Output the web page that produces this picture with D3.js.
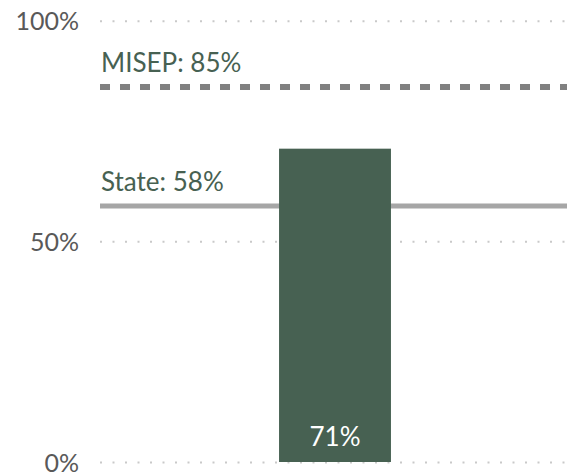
<!DOCTYPE html>
<html>
<head>
<meta charset="utf-8">
<script src="https://cdn.jsdelivr.net/npm/d3@7"></script>
<style>
  html, body { margin: 0; padding: 0; background: #fff; }
  svg { display: block; }
  text { font-family: Lato, "Open Sans", sans-serif; }
</style>
</head>
<body>
<svg id="chart" width="567" height="473"></svg>
<script>
const categories = ["School"];
const values = [0.71];
const tickValues = [0, 0.5, 1];
const tickLabels = ["0%", "50%", "100%"];
const refNames = ["MISEP", "State"];
const refValues = [0.85, 0.58];

const svg = d3.select("#chart");
const mLeft = 100, mRight = 567, mTop = 20.7, mBottom = 462;

const y = d3.scaleLinear().domain([0, 1]).range([mBottom, mTop]);
const x = d3.scaleBand().domain(categories).range([mLeft, 570]).paddingOuter(1.6).paddingInner(0);

// gridlines + tick labels
const axis = d3.axisLeft(y)
  .tickValues(tickValues)
  .tickFormat((d, i) => tickLabels[i])
  .tickSize(-(mRight - mLeft))
  .tickPadding(21);
const g = svg.append("g").attr("transform", `translate(${mLeft},0)`).call(axis);
g.select(".domain").remove();
g.selectAll(".tick line")
  .attr("stroke", "#c9c9c9")
  .attr("stroke-width", 2)
  .attr("stroke-dasharray", "2,10.5");
g.selectAll(".tick text")
  .attr("fill", "#595959")
  .attr("font-size", 25)
  .attr("font-family", "Lato, 'Open Sans', sans-serif")
  .attr("dy", 9);

// State line (behind bar)
svg.append("line")
  .attr("x1", mLeft).attr("x2", mRight)
  .attr("y1", y(refValues[1])).attr("y2", y(refValues[1]))
  .attr("stroke", "#a6a6a6").attr("stroke-width", 5);

// MISEP dashed line
svg.append("line")
  .attr("x1", mLeft).attr("x2", mRight)
  .attr("y1", y(refValues[0])).attr("y2", y(refValues[0]))
  .attr("stroke", "#808080").attr("stroke-width", 6)
  .attr("stroke-dasharray", "10,10");

// reference labels
svg.selectAll("text.ref")
  .data(refNames)
  .join("text")
  .attr("class", "ref")
  .attr("x", mLeft + 1)
  .attr("y", (d, i) => y(refValues[i]) - 15)
  .attr("fill", "#476152")
  .attr("font-size", 26)
  .text((d, i) => `${d}: ${Math.round(refValues[i] * 100)}%`);

// bar
svg.selectAll("rect.bar")
  .data(values)
  .join("rect")
  .attr("class", "bar")
  .attr("x", (d, i) => x(categories[i]))
  .attr("width", x.bandwidth())
  .attr("y", d => y(d))
  .attr("height", d => y(0) - y(d))
  .attr("fill", "#476152");

// value labels
svg.selectAll("text.val")
  .data(values)
  .join("text")
  .attr("class", "val")
  .attr("x", (d, i) => x(categories[i]) + x.bandwidth() / 2)
  .attr("y", y(0) - 16)
  .attr("text-anchor", "middle")
  .attr("fill", "#ffffff")
  .attr("font-size", 26)
  .text(d => `${Math.round(d * 100)}%`);
</script>
</body>
</html>
